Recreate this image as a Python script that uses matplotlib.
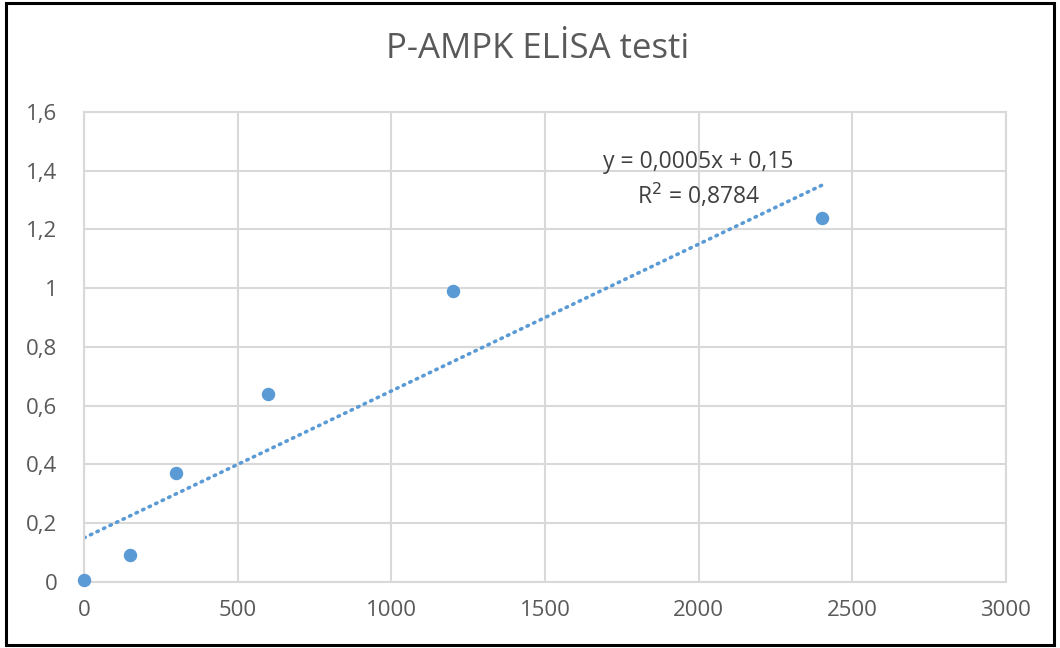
import matplotlib
matplotlib.use("Agg")
import matplotlib.pyplot as plt
from matplotlib.patches import Rectangle
from matplotlib.ticker import FuncFormatter, MultipleLocator
import numpy as np

# Standard concentrations and measured absorbance
conc = [0, 150, 300, 600, 1200, 2400]
absorbance = [0.008, 0.092, 0.371, 0.639, 0.991, 1.240]

# Linear trendline as reported on the chart
slope = 0.0005
intercept = 0.15
r_squared = 0.8784

title = "P-AMPK ELİSA testi"
blue = "#5b9bd5"
text_gray = "#595959"
grid_gray = "#d9d9d9"

plt.rcParams['font.family'] = ['Open Sans', 'DejaVu Sans']


def comma_fmt(v, pos):
    return ("%g" % round(v, 4)).replace(".", ",")


def main():
    fig = plt.figure(figsize=(10.6, 6.48), dpi=100)
    ax = fig.add_axes([0.0792, 0.1019, 0.8698, 0.7253])

    ax.scatter(conc, absorbance, s=75, color=blue, zorder=3, clip_on=False)

    # trendline over the data range
    xs = np.array([min(conc), max(conc)])
    ax.plot(xs, slope * xs + intercept, color=blue, linestyle=(0, (0.4, 1.6)),
            linewidth=2.6, dash_capstyle='round', zorder=2)

    ax.set_xlim(0, 3000)
    ax.set_ylim(0, 1.6)
    ax.xaxis.set_major_locator(MultipleLocator(500))
    ax.yaxis.set_major_locator(MultipleLocator(0.2))
    ax.xaxis.set_major_formatter(FuncFormatter(comma_fmt))
    ax.yaxis.set_major_formatter(FuncFormatter(comma_fmt))

    ax.grid(True, color=grid_gray, linewidth=1.5)
    ax.set_axisbelow(True)
    for s in ax.spines.values():
        s.set_color(grid_gray)
        s.set_linewidth(1.5)
    ax.tick_params(length=0, labelsize=16, colors=text_gray)
    ax.tick_params(axis='x', pad=13)
    ax.tick_params(axis='y', pad=19)

    eq = "y = %sx + %s" % (comma_fmt(slope, 0), comma_fmt(intercept, 0))
    ax.text(2000, 1.43, eq, ha='center', va='center', fontsize=16.5, color="#404040")
    ax.text(2000, 1.315, "R$^2$ = " + comma_fmt(r_squared, 0), ha='center', va='center',
            fontsize=16.5, color="#404040")

    fig.text(0.507, 0.925, title, ha='center', va='center', fontsize=25, color=text_gray)

    # outer frame around the chart
    fig.patches.append(Rectangle((0.006, 0.004), 0.988, 0.991, transform=fig.transFigure,
                                 fill=False, edgecolor='black', linewidth=2.2))

    fig.savefig("out.png", dpi=100, facecolor='white')


if __name__ == "__main__":
    main()
